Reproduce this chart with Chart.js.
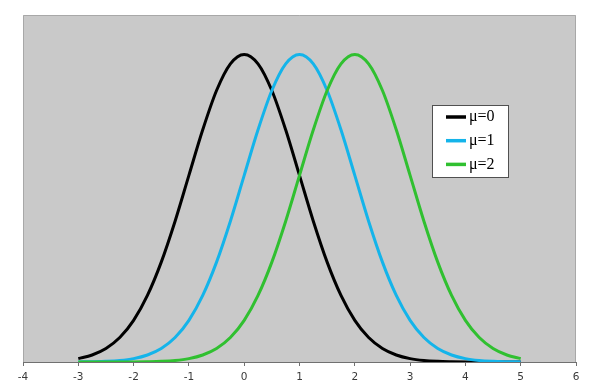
<!DOCTYPE html>
<html>
<head>
<meta charset="utf-8">
<script src="https://cdn.jsdelivr.net/npm/chart.js@4/dist/chart.umd.min.js"></script>
<style>
  html, body { margin: 0; padding: 0; background: #fff; }
  #wrap { width: 593px; height: 391px; }
</style>
</head>
<body>
<div id="wrap"><canvas id="chart" width="593" height="391"></canvas></div>
<script>
const xs = [-3, -2.75, -2.5, -2.25, -2, -1.75, -1.5, -1.25, -1, -0.75, -0.5, -0.25, 0,
            0.25, 0.5, 0.75, 1, 1.25, 1.5, 1.75, 2, 2.25, 2.5, 2.75, 3,
            3.25, 3.5, 3.75, 4, 4.25, 4.5, 4.75, 5];

const mu0 = [0.0044, 0.0091, 0.0175, 0.0317, 0.0540, 0.0863, 0.1295, 0.1826, 0.2420, 0.3011, 0.3521, 0.3867, 0.3989,
             0.3867, 0.3521, 0.3011, 0.2420, 0.1826, 0.1295, 0.0863, 0.0540, 0.0317, 0.0175, 0.0091, 0.0044,
             0.0020, 0.0009, 0.0004, 0.0001, 0, 0, 0, 0];
const mu1 = [0.0001, 0.0004, 0.0009, 0.0020, 0.0044, 0.0091, 0.0175, 0.0317, 0.0540, 0.0863, 0.1295, 0.1826, 0.2420,
             0.3011, 0.3521, 0.3867, 0.3989, 0.3867, 0.3521, 0.3011, 0.2420, 0.1826, 0.1295, 0.0863, 0.0540,
             0.0317, 0.0175, 0.0091, 0.0044, 0.0020, 0.0009, 0.0004, 0.0001];
const mu2 = [0, 0, 0, 0, 0.0001, 0.0004, 0.0009, 0.0020, 0.0044, 0.0091, 0.0175, 0.0317, 0.0540,
             0.0863, 0.1295, 0.1826, 0.2420, 0.3011, 0.3521, 0.3867, 0.3989, 0.3867, 0.3521, 0.3011, 0.2420,
             0.1826, 0.1295, 0.0863, 0.0540, 0.0317, 0.0175, 0.0091, 0.0044];

const labels = ['\u03bc=0', '\u03bc=1', '\u03bc=2'];
const colors = ['#000000', '#14b4ea', '#30c030'];
const series = [mu0, mu1, mu2];

function points(ys) {
  return xs.map((x, i) => ({ x: x, y: ys[i] }));
}

// gray plot area with a thin border
const plotBg = {
  id: 'plotBg',
  beforeDraw(chart) {
    const { ctx, chartArea: a } = chart;
    ctx.save();
    ctx.fillStyle = '#c9c9c9';
    ctx.fillRect(a.left, a.top, a.right - a.left, a.bottom - a.top);
    ctx.strokeStyle = '#a8a8a8';
    ctx.lineWidth = 1;
    ctx.beginPath();
    ctx.moveTo(a.left + 0.5, a.bottom);
    ctx.lineTo(a.left + 0.5, a.top + 0.5);
    ctx.lineTo(a.right - 0.5, a.top + 0.5);
    ctx.lineTo(a.right - 0.5, a.bottom);
    ctx.stroke();
    ctx.restore();
  }
};

// boxed legend inside the plot
const boxLegend = {
  id: 'boxLegend',
  afterDraw(chart) {
    const ctx = chart.ctx;
    const bx = 432, by = 105, bw = 76, bh = 72;
    ctx.save();
    ctx.fillStyle = '#ffffff';
    ctx.fillRect(bx, by, bw, bh);
    ctx.strokeStyle = '#505050';
    ctx.lineWidth = 1;
    ctx.strokeRect(bx + 0.5, by + 0.5, bw, bh);
    ctx.font = '16px "Liberation Serif", serif';
    ctx.textBaseline = 'middle';
    chart.data.datasets.forEach((ds, i) => {
      const y = by + 12 + i * 23.7;
      ctx.strokeStyle = ds.borderColor;
      ctx.lineWidth = 3.5;
      ctx.beginPath();
      ctx.moveTo(bx + 14, y);
      ctx.lineTo(bx + 34, y);
      ctx.stroke();
      ctx.fillStyle = '#000';
      ctx.fillText(ds.label, bx + 37, y);
    });
    ctx.restore();
  }
};

new Chart(document.getElementById('chart'), {
  type: 'line',
  data: {
    datasets: series.map((ys, i) => ({
      label: labels[i],
      data: points(ys),
      borderColor: colors[i],
      borderWidth: 3,
      pointRadius: 0,
      fill: false,
      cubicInterpolationMode: 'monotone',
      order: 2 - i
    }))
  },
  options: {
    responsive: false,
    animation: false,
    events: [],
    layout: { padding: { left: 23, right: 17, top: 15, bottom: 0 } },
    plugins: {
      legend: { display: false },
      tooltip: { enabled: false }
    },
    scales: {
      x: {
        type: 'linear',
        min: -4,
        max: 6,
        afterFit: s => { s.height = 29; },
        ticks: {
          stepSize: 1,
          padding: 5,
          color: '#3a3a3a',
          font: { family: '"DejaVu Sans", sans-serif', size: 10.5 }
        },
        grid: {
          drawOnChartArea: false,
          drawTicks: true,
          tickLength: 4,
          color: '#707070'
        },
        border: { display: true, color: '#707070', width: 1 }
      },
      y: {
        display: false,
        min: 0,
        max: 0.45
      }
    }
  },
  plugins: [plotBg, boxLegend]
});
</script>
</body>
</html>
